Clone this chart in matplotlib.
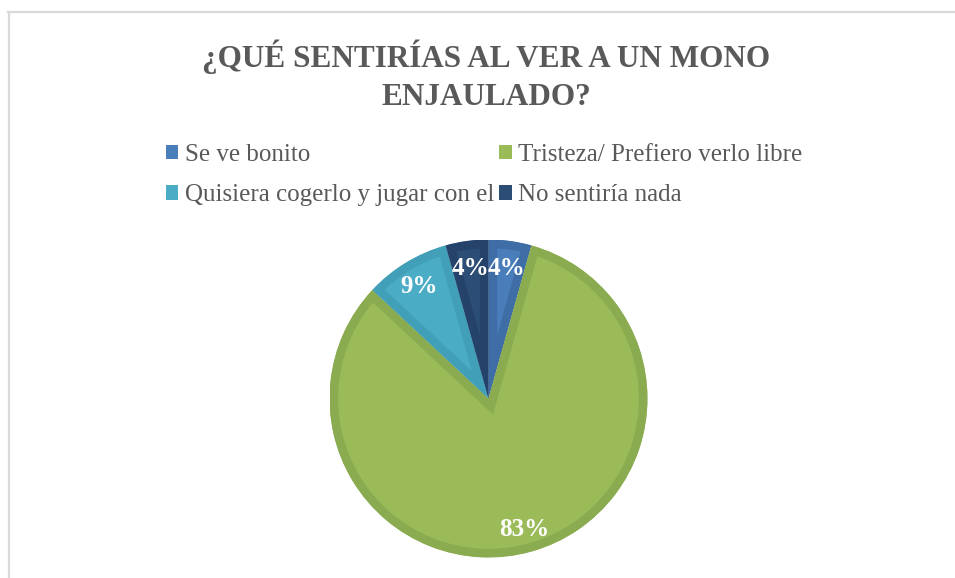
import matplotlib.pyplot as plt
from matplotlib.patches import Patch
from matplotlib.lines import Line2D

# answers (counts) read as percentages 4 / 83 / 9 / 4
labels = ["Se ve bonito", "Tristeza/ Prefiero verlo libre",
          "Quisiera cogerlo y jugar con el", "No sentiría nada"]
counts = [1, 19, 2, 1]
fills = ["#4A7EBB", "#9BBB59", "#4BACC6", "#2C4D75"]
edges = ["#3F6DA5", "#8BAB50", "#429FB8", "#25436A"]

plt.rcParams['font.family'] = ['Liberation Serif', 'DejaVu Serif']

fig = plt.figure(figsize=(9.55, 5.78), dpi=100)
fig.patch.set_facecolor("white")

# light grey frame (left and top edges visible)
fig.add_artist(Line2D([8.5/955, 8.5/955], [0, (578-11.5)/578],
                      color="#D9D9D9", lw=1.6, transform=fig.transFigure))
fig.add_artist(Line2D([8/955, 1], [(578-11.5)/578, (578-11.5)/578],
                      color="#D9D9D9", lw=1.6, transform=fig.transFigure))

r_px = 159
cx, cy = 488.5, 578 - 398.5
ax = fig.add_axes([(cx-r_px)/955, (cy-r_px)/578, 2*r_px/955, 2*r_px/578])

wedges, texts, autotexts = ax.pie(
    counts, colors=fills, startangle=90, counterclock=False,
    autopct=lambda p: "%.0f%%" % p, pctdistance=0.84,
    wedgeprops=dict(linewidth=12.5, edgecolor="none"),
    textprops=dict(color="white", fontsize=18, fontweight="bold"))
ax.set_xlim(-1, 1)
ax.set_ylim(-1, 1)
ax.set_aspect("equal")
# darker inner border: stroke each wedge and keep only the inside half
for w, ec in zip(wedges, edges):
    w.set_edgecolor(ec)
    w.set_clip_on(True)
    w.set_clip_path(w)
for t in autotexts:
    t.set_va("center_baseline")

fig.text(486/955, 1 - 76/578, "¿QUÉ SENTIRÍAS AL VER A UN MONO\nENJAULADO?",
         ha="center", va="center", fontsize=22.5, fontweight="bold",
         color="#595959", linespacing=1.4)

order = [0, 2, 1, 3]  # legend is filled row by row in the reference
handles = [Patch(facecolor=fills[i], edgecolor="none") for i in order]
fig.legend(handles, [labels[i] for i in order], ncol=2, loc="center",
           frameon=False, bbox_to_anchor=(484/955, 1 - 175/578), fontsize=18,
           labelcolor="#595959", handlelength=0.5, handleheight=0.5,
           handletextpad=0.25, columnspacing=0.2, labelspacing=0.75)

fig.savefig("out.png", dpi=100)
